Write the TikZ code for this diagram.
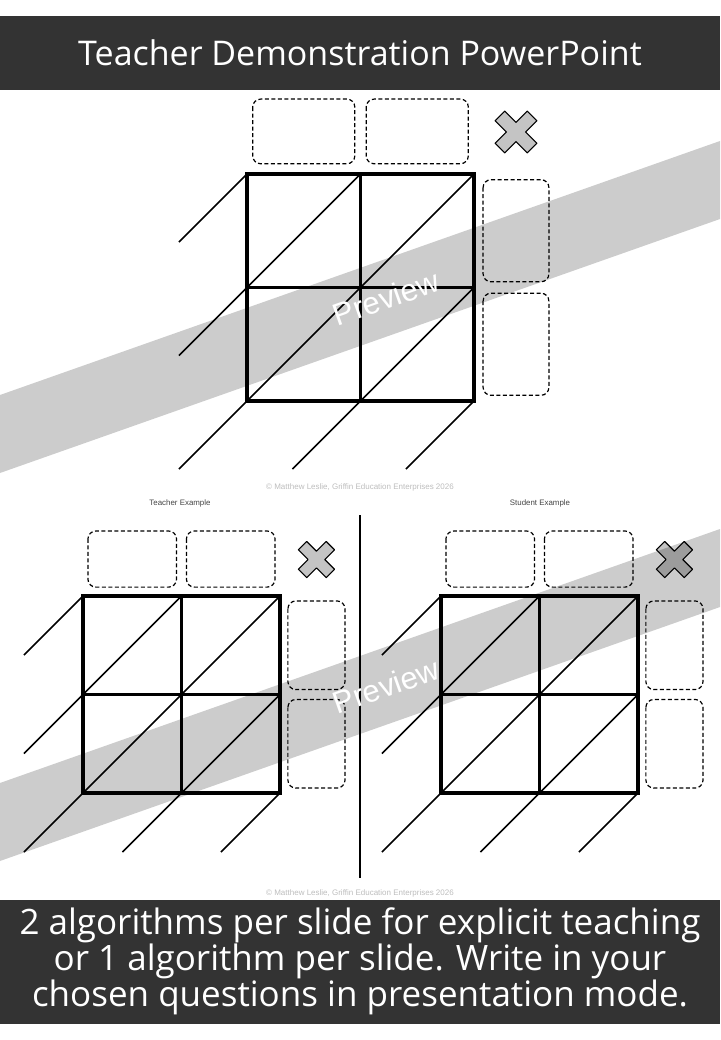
\documentclass[tikz,border=0pt]{standalone}
\usepackage{fontspec}
\setmainfont{Open Sans}
\newfontfamily\markfont{Liberation Sans}
\usepackage{tikz}
\usetikzlibrary{calc}
\definecolor{SlideDark}{HTML}{333333}
\definecolor{SignGray}{HTML}{C4C4C4}
\definecolor{NoteGray}{HTML}{BDBDBD}
\definecolor{LabelGray}{HTML}{444444}

\begin{document}
\begin{tikzpicture}[x=1pt,y=-1pt,
    gridline/.style={line width=3.2pt,line cap=rect},
    diagline/.style={line width=1.5pt},
    answerbox/.style={line width=1.2pt,dash pattern=on 4pt off 2.5pt,rounded corners=8pt},
    signmark/.style={fill=SignGray,draw=black,line width=1.1pt,line join=round},
    band/.style={fill=black,opacity=0.2}]
  \useasboundingbox (0,0) rectangle (720,1040);
  \def\lattice#1#2#3{
    \begin{scope}[shift={(#1,#2)},x=#3pt,y=-#3pt]
      % factor boxes
      \draw[answerbox] (0.05,-0.66) rectangle (0.95,-0.09);
      \draw[answerbox] (1.05,-0.66) rectangle (1.95,-0.09);
      \draw[answerbox] (2.08,0.05) rectangle (2.66,0.95);
      \draw[answerbox] (2.08,1.05) rectangle (2.66,1.95);
      % times sign
      \begin{scope}[shift={(2.37,-0.37)},rotate=45]
        \draw[signmark] (0.06,0.06) -- (0.06,0.2) -- (-0.06,0.2) -- (-0.06,0.06)
          -- (-0.2,0.06) -- (-0.2,-0.06) -- (-0.06,-0.06) -- (-0.06,-0.2)
          -- (0.06,-0.2) -- (0.06,-0.06) -- (0.2,-0.06) -- (0.2,0.06) -- cycle;
      \end{scope}
      % lattice
      \foreach \ax/\ay/\bx/\by in {0/0/-0.6/0.6,1/0/-0.6/1.6,2/0/-0.6/2.6,2/1/0.4/2.6,2/2/1.4/2.6}
        \draw[diagline] (\ax,\ay) -- (\bx,\by);
      \draw[gridline] (0,0) rectangle (2,2);
      \draw[gridline] (1,0) -- (1,2);
      \draw[gridline] (0,1) -- (2,1);
    \end{scope}
  }
  % title and notes bars
  \fill[SlideDark] (0,16) rectangle (720,90);
  \node[text=white,font=\fontsize{34}{40}\selectfont] (title) at (360,53) {Teacher Demonstration PowerPoint};
  \fill[SlideDark] (0,900) rectangle (720,1024);
  \node[text=white,align=center,font=\fontsize{35}{34}\selectfont] (notes) at (360,961)
    {2 algorithms per slide for explicit teaching\\or 1 algorithm per slide. Write in your\\chosen questions in presentation mode.};
  % one algorithm
  \lattice{247}{174}{113.5}
  \node[text=NoteGray,font=\markfont\fontsize{8}{9}\selectfont] (copyTop) at (360,487)
    {\textcopyright\ Matthew Leslie, Griffin Education Enterprises 2026};
  % two algorithms
  \node[text=LabelGray,font=\markfont\fontsize{7.9}{9}\selectfont] (teacher) at (180,503) {Teacher Example};
  \node[text=LabelGray,font=\markfont\fontsize{7.9}{9}\selectfont] (student) at (540,503) {Student Example};
  \draw[line width=1.5pt] (360,515) -- (360,878);
  \lattice{83}{596}{98.5}
  \lattice{441}{596}{98.5}
  \node[text=NoteGray,font=\markfont\fontsize{8}{9}\selectfont] (copyBottom) at (360,893)
    {\textcopyright\ Matthew Leslie, Griffin Education Enterprises 2026};
  % watermarks
  \foreach \dy/\name in {0/previewTop,388/previewBottom}{
    \fill[band] (0,395+\dy) -- (720,141+\dy) -- (720,219+\dy) -- (0,473+\dy) -- cycle;
    \node[text=white,rotate=19.4,font=\markfont\fontsize{31}{34}\selectfont] (\name) at (386,298+\dy) {Preview};
  }
\end{tikzpicture}
\end{document}
